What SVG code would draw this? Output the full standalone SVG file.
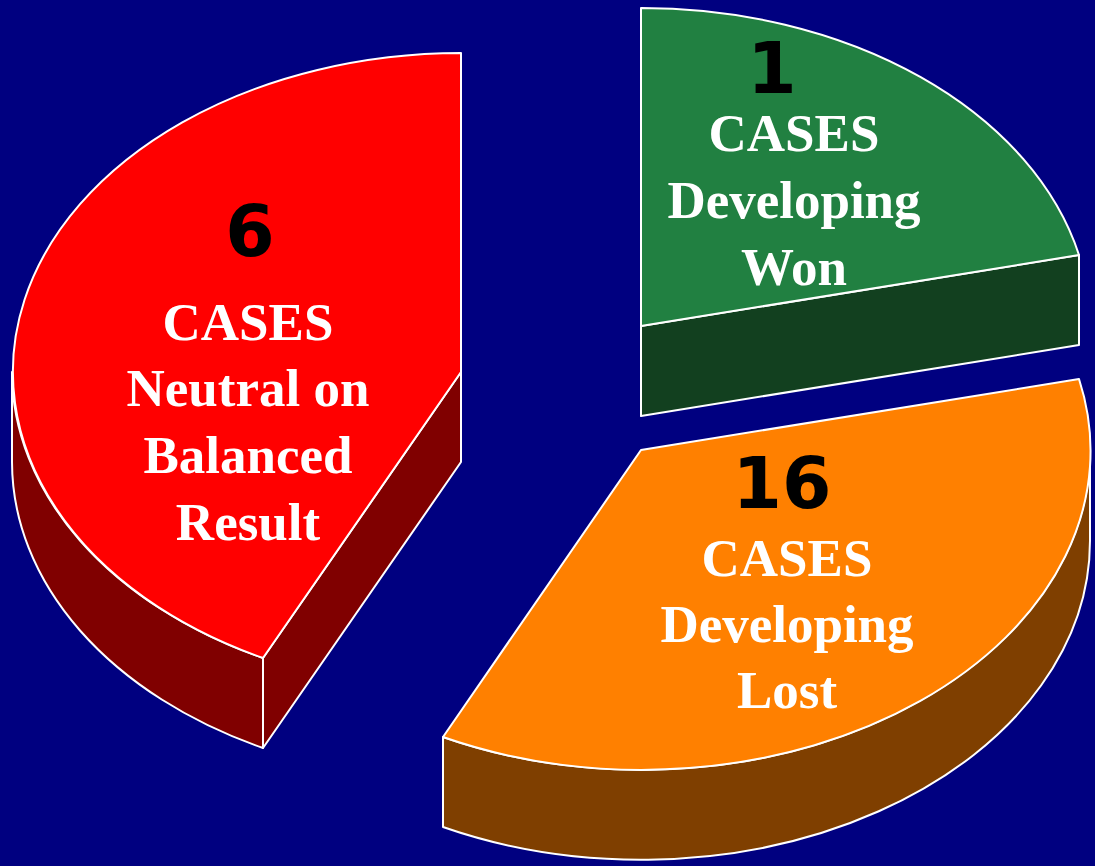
<svg xmlns="http://www.w3.org/2000/svg" width="1095" height="866" viewBox="0 0 1095 866">
<style>
.edge{stroke:#ffffff;stroke-width:2;stroke-linejoin:round}
.num{font-family:"DejaVu Sans",sans-serif;font-weight:bold;font-size:71px;fill:#000000;text-anchor:middle}
.lbl{font-family:"Liberation Serif","Times New Roman",serif;font-weight:bold;font-size:53px;fill:#ffffff;text-anchor:middle}
</style>
<rect x="0" y="0" width="1095" height="866" fill="#000080"/>
<g id="slice-neutral">
<path class="edge" fill="#800000" d="M 12,372 A 449 319 0 0 0 263,658 L 263,748 A 449 319 0 0 1 12,462 Z"/>
<path class="edge" fill="#800000" d="M 461,372 L 263,658 L 263,748 L 461,462 Z"/>
<path class="edge" fill="#ff0000" d="M 461,372 L 461,53 A 449 319 0 0 0 263,658 Z"/>
<text class="num" x="250" y="256">6</text>
<text class="lbl" x="248" y="340">CASES</text>
<text class="lbl" x="248" y="406">Neutral on</text>
<text class="lbl" x="248" y="473">Balanced</text>
<text class="lbl" x="248" y="540">Result</text>
</g>
<g id="slice-won">
<path class="edge" fill="#12401f" d="M 641,326 L 1079,255 L 1079,345 L 641,416 Z"/>
<path class="edge" fill="#218041" d="M 641,326 L 641,8 A 449 319 0 0 1 1079,255 Z"/>
<text class="num" x="772" y="93">1</text>
<text class="lbl" x="794" y="151">CASES</text>
<text class="lbl" x="794" y="218">Developing</text>
<text class="lbl" x="794" y="285">Won</text>
</g>
<g id="slice-lost">
<path class="edge" fill="#7f3f00" d="M 1090,450 A 449 319 0 0 1 443,737 L 443,827 A 449 319 0 0 0 1090,540 Z"/>
<path class="edge" fill="#ff8000" d="M 641,450 L 1079,379 A 449 319 0 0 1 443,737 Z"/>
<text class="num" x="782" y="508">16</text>
<text class="lbl" x="787" y="576">CASES</text>
<text class="lbl" x="787" y="642">Developing</text>
<text class="lbl" x="787" y="708">Lost</text>
</g>
<g id="connectors"></g>
</svg>
